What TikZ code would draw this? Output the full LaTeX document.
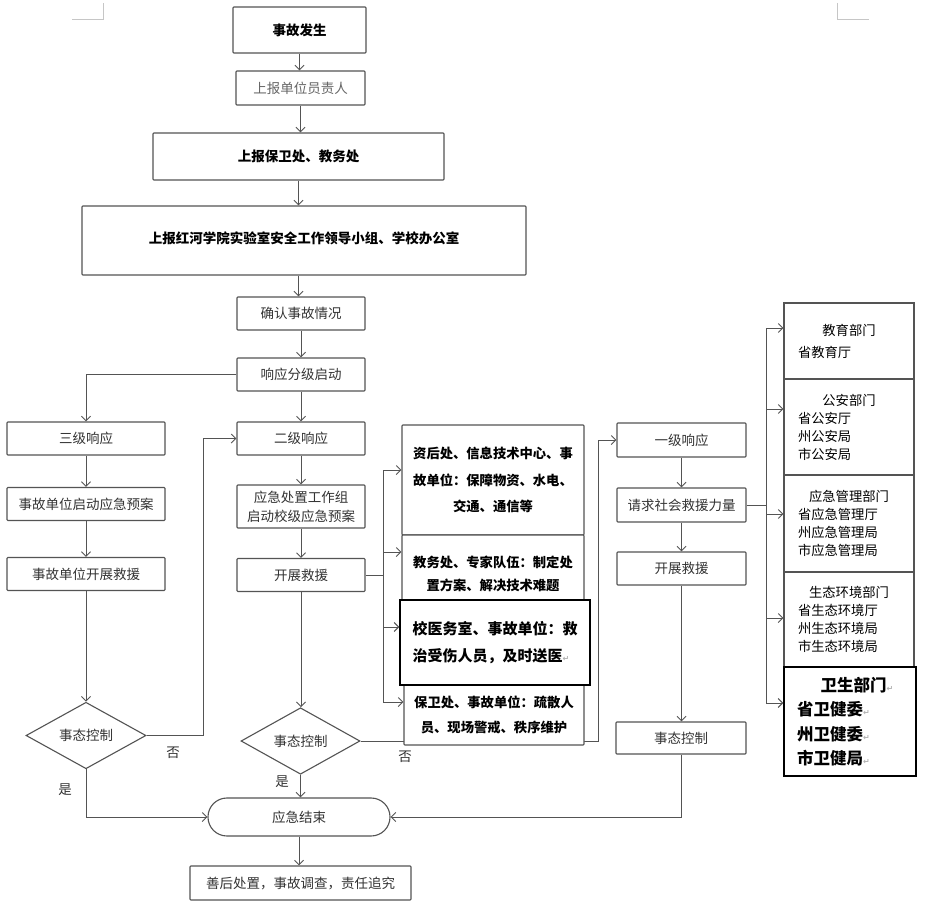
\documentclass[tikz,border=0pt]{standalone}
\usepackage{fontspec}
\setmainfont{Noto Sans CJK SC}
\newfontfamily\dvfont{DejaVu Sans}
\usetikzlibrary{arrows.meta,shapes.geometric}
\definecolor{linec}{gray}{0.33}
\definecolor{textc}{gray}{0.2}
\newcommand\fsz{\fontsize{13.5}{18}\selectfont}
\newcommand\retmark{{\dvfont\color{gray!60}\fontsize{8}{8}\selectfont ↵}}
\begin{document}
\begin{tikzpicture}[x=1pt,y=-1pt,
 box/.style={draw=linec, line width=1.1pt, rounded corners=0.8pt, fill=white, inner sep=0pt, font=\fsz, text=textc, align=center},
 bbox/.style={box, font=\fsz\bfseries, text=black},
 wh/.style 2 args={minimum width=#1pt, minimum height=#2pt},
 dia/.style={diamond, draw=linec, line width=1.1pt, fill=white, inner sep=0pt, font=\fsz, text=textc},
 arr/.style={draw=linec, line width=1pt, -{Straight Barb[length=4.5pt,width=9pt]}},
 ln/.style={draw=linec, line width=1pt},
 lab/.style={font=\fsz, text=textc, inner sep=0pt},
 dept/.style={draw=linec, line width=1.1pt, fill=white, inner sep=0pt, text width=102pt, align=left, text=black, minimum width=130pt},
]
\useasboundingbox (0,0) rectangle (925,909);
\fill[white] (0,0) rectangle (925,909);
% corner marks
\draw[gray!45, line width=1pt] (72,20) -- (103,20) -- (103,3);
\draw[gray!45, line width=1pt] (837,3) -- (837,20) -- (869,20);

% main column
\node[bbox, wh={133}{46}] (n1) at (299.5,30) {事故发生};
\node[box, wh={129}{34}, text=black!60] (n2) at (300.5,88) {上报单位员责人};
\node[bbox, wh={291}{47}] (n3) at (298.5,156.5) {上报保卫处、教务处};
\node[bbox, wh={444}{69}] (n4) at (304,240.5) {\raisebox{6pt}{上报红河学院实验室安全工作领导小组、学校办公室}};
\node[box, wh={128}{33}] (n5) at (301,313.5) {确认事故情况};
\node[box, wh={128}{33}] (n6) at (301,374.5) {响应分级启动};
\node[box, wh={158}{33}] (n7) at (86,438.5) {三级响应};
\node[box, wh={128}{33}] (n8) at (301,438.5) {二级响应};
\node[box, wh={158}{33}] (n9) at (86,504) {事故单位启动应急预案};
\node[box, wh={128}{43}, font={\fontsize{13.5}{19}\selectfont}] (n10) at (301,506.5) {应急处置工作组\\启动校级应急预案};
\node[box, wh={158}{33}] (n11) at (86,574) {事故单位开展救援};
\node[box, wh={128}{33}] (n12) at (301,575) {开展救援};
\node[dia, wh={120}{57}] (d1) at (86,735.5) {事态控制};
\node[dia, wh={119}{58}] (d2) at (300.5,741) {事态控制};
\node[box, wh={182}{38}, rounded corners=18.9pt] (end) at (299,817) {应急结束};
\node[box, wh={221}{34}] (fin) at (300.5,883) {善后处置，事故调查，责任追究};

% right column
\node[box, wh={129}{34}] (r1) at (681.5,440) {一级响应};
\node[box, wh={129}{34}] (r2) at (681.5,505) {请求社会救援力量};
\node[box, wh={129}{33}] (r3) at (681.5,568.5) {开展救援};
\node[box, wh={130}{32}] (r4) at (681,738) {事态控制};

% no-branch of middle diamond (behind the boxes)
\coordinate (c2) at (598,741);
\draw[arr] (d2.east) -- (c2) |- (r1.west);

% middle boxes
\node[bbox, wh={182}{110}, font={\fontsize{13.3}{26.5}\selectfont\bfseries}] (b1) at (493,480) {资后处、信息技术中心、事\\故单位：保障物资、水电、\\交通、通信等};
\node[bbox, wh={182}{77}, font={\fontsize{13.3}{23}\selectfont\bfseries}] (b2) at (493,573.5) {教务处、专家队伍：制定处\\置方案、解决技术难题};
\node[bbox, wh={180}{60}, font={\fontsize{13.3}{25}\selectfont\bfseries}] (b4) at (494,715) {保卫处、事故单位：疏散人\\员、现场警戒、秩序维护};
\node[bbox, draw=black, line width=1.3pt, rounded corners=0pt, wh={190}{85}, font={\fontsize{15}{27}\selectfont\bfseries}] (b3) at (495,642.5) {\raisebox{6pt}{\begin{tabular}{@{}l@{}}校医务室、事故单位：救\\治受伤人员，及时送医\retmark\end{tabular}}};

% departments
\node[dept, minimum height=76pt, font={\fontsize{13.3}{18}\selectfont}] (e1) at (849,341) {\makebox[102pt]{教育部门}\\[4pt]省教育厅};
\node[dept, minimum height=96pt, font={\fontsize{13.3}{18}\selectfont}] (e2) at (849,427) {\makebox[102pt]{公安部门}\\省公安厅\\州公安局\\市公安局};
\node[dept, minimum height=97pt, font={\fontsize{13.3}{18}\selectfont}] (e3) at (849,523.5) {\makebox[102pt]{应急管理部门}\\省应急管理厅\\州应急管理局\\市应急管理局};
\node[dept, minimum height=95pt, font={\fontsize{13.3}{18}\selectfont}] (e4) at (849,619.5) {\makebox[102pt]{生态环境部门}\\省生态环境厅\\州生态环境局\\市生态环境局};
\node[dept, draw=black, line width=1.3pt, text width=106pt, minimum width=132pt, minimum height=109pt, font={\fontsize{16.5}{24.5}\selectfont\bfseries}] (e5) at (850,721.5) {\makebox[106pt]{\hspace{14pt}卫生部门\retmark}\\省卫健委\retmark\\州卫健委\retmark\\市卫健局\retmark};

% labels
\node[lab] (no1) at (173,753) {否};
\node[lab] (yes1) at (65,790) {是};
\node[lab] (yes2) at (282,782) {是};
\node[lab] (no2) at (405,757) {否};

% main column arrows
\draw[arr] (n1.south) -- (n1.south |- n2.north);
\draw[arr] (n2.south) -- (n2.south |- n3.north);
\draw[arr] (n3.south) -- (n3.south |- n4.north);
\draw[arr] (n3.south |- n4.south) -- (n3.south |- n5.north);
\draw[arr] (n5.south) -- (n5.south |- n6.north);
\draw[arr] (n6.south) -- (n6.south |- n8.north);
\draw[arr] (n6.west) -| (n7.north);
\draw[arr] (n7.south) -- (n9.north);
\draw[arr] (n9.south) -- (n11.north);
\draw[arr] (n11.south) -- (d1.north);
\coordinate (c1) at (203,735.5);
\draw[arr] (d1.east) -- (c1) |- (n8.west);
\draw[arr] (d1.south) |- (end.west);
\draw[arr] (n8.south) -- (n8.south |- n10.north);
\draw[arr] (n10.south) -- (n10.south |- n12.north);
\draw[arr] (n12.south) -- (n12.south |- d2.north);
\draw[arr] (d2.south) -- (d2.south |- end.north);
\draw[arr] (end.south) -- (end.south |- fin.north);

% middle bus
\coordinate (m0) at (383,575);
\coordinate (m1) at (383,470);
\coordinate (m2) at (383,552);
\coordinate (m3) at (383,627);
\coordinate (m4) at (383,702);
\draw[ln] (n12.east) -- (m0);
\draw[ln] (m1) -- (m4);
\draw[arr] (m1) -- (m1 -| b1.west);
\draw[arr] (m2) -- (m2 -| b2.west);
\draw[arr] (m3) -- (m3 -| b3.west);
\draw[arr] (m4) -- (m4 -| b4.west);

% right column arrows
\draw[arr] (r1.south) -- (r1.south |- r2.north);
\draw[arr] (r2.south) -- (r2.south |- r3.north);
\draw[arr] (r3.south) -- (r3.south |- r4.north);
\draw[arr] (r4.south) |- (end.east);

% right bus
\coordinate (k0) at (766,505);
\coordinate (k1) at (766,328);
\coordinate (k2) at (766,409);
\coordinate (k3) at (766,514);
\coordinate (k4) at (766,618);
\coordinate (k5) at (766,703);
\draw[ln] (r2.east) -- (k0);
\draw[ln] (k1) -- (k5);
\draw[arr] (k1) -- (k1 -| e1.west);
\draw[arr] (k2) -- (k2 -| e2.west);
\draw[arr] (k3) -- (k3 -| e3.west);
\draw[arr] (k4) -- (k4 -| e4.west);
\draw[arr] (k5) -- (k5 -| e5.west);
\end{tikzpicture}
\end{document}
